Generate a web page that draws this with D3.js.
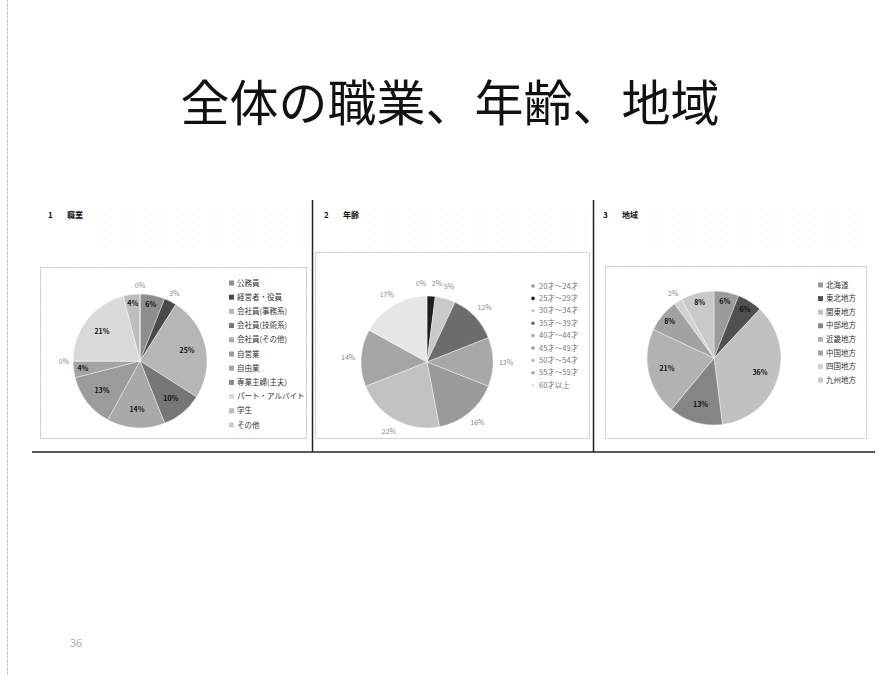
<!DOCTYPE html>
<html>
<head>
<meta charset="utf-8">
<script src="https://cdn.jsdelivr.net/npm/d3@7"></script>
<style>
body { margin: 0; background: #fff; }
text { font-family: "Noto Sans CJK JP", sans-serif; }
</style>
</head>
<body>
<script>

const m = { width: 892, height: 676 }

// 1 職業
const jobs = ['公務員', '経営者・役員', '会社員(事務系)', '会社員(技術系)', '会社員(その他)',
    '自営業', '自由業', '専業主婦(主夫)', 'パート・アルバイト', '学生', 'その他']
const jobShares = [6, 3, 25, 10, 14, 13, 4, 0, 21, 4, 0]

// 2 年齢
const ages = ['20才～24才', '25才～29才', '30才～34才', '35才～39才', '40才～44才',
    '45才～49才', '50才～54才', '55才～59才', '60才以上']
const ageShares = [0, 2, 5, 12, 12, 16, 22, 14, 17]

// 3 地域
const regions = ['北海道', '東北地方', '関東地方', '中部地方', '近畿地方', '中国地方', '四国地方', '九州地方']
const regionShares = [6, 6, 36, 13, 21, 8, 2, 8]

const panels = [
    { num: '1', title: '職業', names: jobs, values: jobShares,
      cx: 140, cy: 361, r: 67, box: [40, 267, 306, 438], head: 48,
      legend: { x: 229, y: 283, step: 14.2, dot: false, color: '#333' },
      inside: true,
      fills: ['#8e8e8e', '#4a4a4a', '#b6b6b6', '#767676', '#a9a9a9', '#9b9b9b', '#a3a3a3', '#888', '#d9d9d9', '#bdbdbd', '#ccc'] },
    { num: '2', title: '年齢', names: ages, values: ageShares,
      cx: 427, cy: 362, r: 66, box: [315, 252, 589, 438], head: 324,
      legend: { x: 531, y: 286, step: 12.4, dot: true, color: '#777' },
      inside: false,
      fills: ['#999', '#1e1e1e', '#c9c9c9', '#6c6c6c', '#a8a8a8', '#9a9a9a', '#c2c2c2', '#a5a5a5', '#e6e6e6'] },
    { num: '3', title: '地域', names: regions, values: regionShares,
      cx: 714, cy: 358, r: 67, box: [605, 266, 866, 438], head: 603,
      legend: { x: 818, y: 285, step: 13.6, dot: false, color: '#333' },
      inside: true,
      fills: ['#9a9a9a', '#505050', '#c1c1c1', '#858585', '#b2b2b2', '#a2a2a2', '#d2d2d2', '#c9c9c9'] }
]

const svg = d3.select('body').append('svg')
    .attr('width', m.width)
    .attr('height', m.height)

// speckle texture like the scan
const defs = svg.append('defs')
const speck = defs.append('pattern')
    .attr('id', 'speck')
    .attr('width', 11).attr('height', 8)
    .attr('patternUnits', 'userSpaceOnUse')
speck.append('rect').attr('x', 1).attr('y', 2).attr('width', 1).attr('height', 1).attr('fill', '#e2e2e2')
speck.append('rect').attr('x', 7).attr('y', 6).attr('width', 1).attr('height', 1).attr('fill', '#ececec')

// page frame
svg.append('line')
    .attr('x1', 7.5).attr('x2', 7.5).attr('y1', 0).attr('y2', m.height)
    .attr('stroke', '#c4c4c4').attr('stroke-dasharray', '3,1')

svg.append('text')
    .attr('x', 450).attr('y', 121)
    .attr('text-anchor', 'middle')
    .attr('font-size', 49)
    .attr('fill', '#111')
    .text('全体の職業、年齢、地域')

svg.append('text')
    .attr('x', 70).attr('y', 647)
    .attr('font-size', 11)
    .attr('fill', '#aaa')
    .text('36')

// table rules
svg.append('line')
    .attr('x1', 32).attr('x2', 875).attr('y1', 452).attr('y2', 452)
    .attr('stroke', '#222').attr('stroke-width', 1.5)
;[312.5, 593.5].forEach(function(x) {
    svg.append('line')
        .attr('x1', x).attr('x2', x).attr('y1', 200).attr('y2', 452)
        .attr('stroke', '#222').attr('stroke-width', 1.5)
})

const pie = d3.pie().sort(null).value(function(d) { return d })

panels.forEach(function(p) {
    const g = svg.append('g')

    // heading + faint scanned text noise
    g.append('text')
        .attr('x', p.head).attr('y', 218)
        .attr('font-size', 8).attr('font-weight', 'bold').attr('fill', '#111')
        .text(p.num)
    g.append('text')
        .attr('x', p.head + 19).attr('y', 218)
        .attr('font-size', 8).attr('font-weight', 'bold').attr('fill', '#111')
        .text(p.title)
    g.append('rect')
        .attr('x', p.head + 42).attr('y', 207)
        .attr('width', 220).attr('height', 40)
        .attr('fill', 'url(#speck)')

    // chart box
    g.append('rect')
        .attr('x', p.box[0] + 0.5).attr('y', p.box[1] + 0.5)
        .attr('width', p.box[2] - p.box[0]).attr('height', p.box[3] - p.box[1])
        .attr('fill', 'none')
        .attr('stroke', '#bbb')
        .attr('stroke-dasharray', '2,1')

    const color = d3.scaleOrdinal().domain(p.names).range(p.fills)
    const arcs = pie(p.values)
    const arc = d3.arc().innerRadius(0).outerRadius(p.r)

    const pg = g.append('g').attr('transform', 'translate(' + p.cx + ',' + p.cy + ')')

    pg.selectAll('path')
        .data(arcs)
        .enter()
        .append('path')
            .attr('d', arc)
            .attr('fill', function(d, i) { return color(p.names[i]) })
            .attr('stroke', '#fff')
            .attr('stroke-width', 0.4)

    pg.selectAll('text')
        .data(arcs)
        .enter()
        .append('text')
            .attr('transform', function(d) {
                let rr
                if (!p.inside) rr = p.r + 13
                else if (d.value < 4) rr = p.r + 9
                else if (d.value < 10) rr = p.r * 0.86
                else rr = p.r * 0.72
                const a = (d.startAngle + d.endAngle) / 2
                let dx = 0
                // zero slices at 12 o'clock: nudge label left so it clears its neighbour
                if (!p.inside && d.value === 0) dx = -6
                if (!p.inside && d.value > 0 && d.value < 4) dx = 5
                return 'translate(' + (Math.sin(a) * rr + dx) + ',' + (-Math.cos(a) * rr + 2.5) + ')'
            })
            .attr('text-anchor', 'middle')
            .attr('font-size', 7)
            .attr('font-weight', function(d) { return p.inside && d.value >= 4 ? 'bold' : 'normal' })
            .attr('fill', function(d) { return p.inside && d.value >= 4 ? '#111' : '#888' })
            .text(function(d) { return d.value + '%' })

    // legend
    const lg = g.selectAll('.leg')
        .data(p.names)
        .enter()
        .append('g')
            .attr('transform', function(d, i) {
                return 'translate(' + p.legend.x + ',' + (p.legend.y + i * p.legend.step) + ')'
            })
    if (p.legend.dot) {
        lg.append('circle')
            .attr('cx', 2).attr('cy', 0).attr('r', 1.8)
            .attr('fill', function(d) { return color(d) })
    } else {
        lg.append('rect')
            .attr('x', 0).attr('y', -2.5).attr('width', 5).attr('height', 5)
            .attr('fill', function(d) { return color(d) })
    }
    lg.append('text')
        .attr('x', 8).attr('y', 2.6)
        .attr('font-size', 7.5)
        .attr('fill', p.legend.color)
        .text(function(d) { return d })
})

</script>
</body>
</html>
